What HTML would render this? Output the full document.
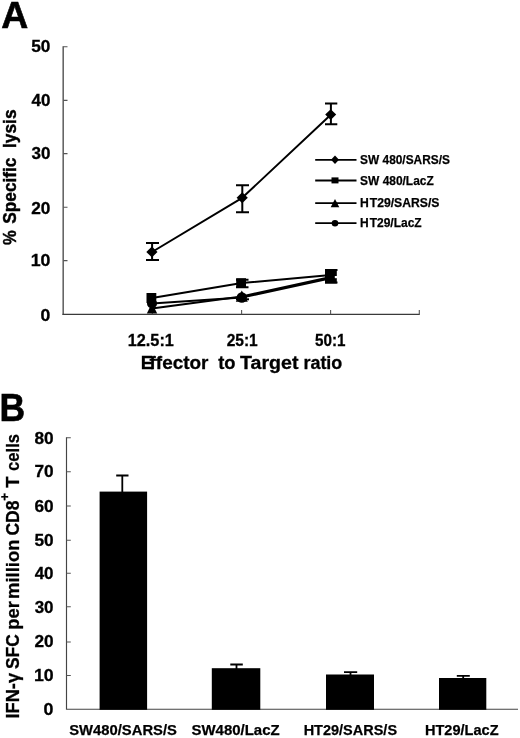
<!DOCTYPE html>
<html>
<head>
<meta charset="utf-8">
<title>Figure</title>
<style>
html,body{margin:0;padding:0;background:#fff;}
body{width:520px;height:738px;overflow:hidden;}
svg{display:block;}
text{font-family:"Liberation Sans",Arial,sans-serif;font-weight:bold;fill:#000;stroke:#000;}
</style>
</head>
<body>
<svg width="520" height="738" viewBox="0 0 520 738">
<rect width="520" height="738" fill="#fff"/>

<!-- text -->
<g id="A">
<text transform="translate(1.30,27.60)" font-size="37" textLength="27.01" lengthAdjust="spacingAndGlyphs" stroke-width="0.6" xml:space="preserve">A</text>
</g>
<g id="yticksA">
<text transform="translate(31.20,51.90)" font-size="16.8" textLength="19.20" lengthAdjust="spacingAndGlyphs" stroke-width="0.3" xml:space="preserve">50</text>
<text transform="translate(31.45,106.00)" font-size="16.8" textLength="18.93" lengthAdjust="spacingAndGlyphs" stroke-width="0.3" xml:space="preserve">40</text>
<text transform="translate(31.45,158.90)" font-size="16.8" textLength="18.94" lengthAdjust="spacingAndGlyphs" stroke-width="0.3" xml:space="preserve">30</text>
<text transform="translate(31.20,213.60)" font-size="16.8" textLength="19.20" lengthAdjust="spacingAndGlyphs" stroke-width="0.3" xml:space="preserve">20</text>
<text transform="translate(30.70,265.90)" font-size="16.8" textLength="19.78" lengthAdjust="spacingAndGlyphs" stroke-width="0.3" xml:space="preserve">10</text>
<text transform="translate(40.45,320.50)" font-size="16.8" textLength="9.83" lengthAdjust="spacingAndGlyphs" stroke-width="0.3" xml:space="preserve">0</text>
</g>
<g id="ylabelA">
<text transform="translate(15.60,244.88) rotate(-90)" font-size="18.6" textLength="14.67" lengthAdjust="spacingAndGlyphs" stroke-width="0.45" xml:space="preserve">%</text>
<text transform="translate(15.60,223.63) rotate(-90)" font-size="18.6" textLength="65.96" lengthAdjust="spacingAndGlyphs" stroke-width="0.45" xml:space="preserve">Specific</text>
<text transform="translate(15.70,148.00) rotate(-90)" font-size="18" textLength="38.56" lengthAdjust="spacingAndGlyphs" stroke-width="0.45" xml:space="preserve">lysis</text>
</g>
<g id="xticksA">
<text transform="translate(127.75,345.60)" font-size="17.3" textLength="46.13" lengthAdjust="spacingAndGlyphs" stroke-width="0.3" xml:space="preserve">12.5:1</text>
<text transform="translate(226.63,345.60)" font-size="17.3" textLength="31.12" lengthAdjust="spacingAndGlyphs" stroke-width="0.3" xml:space="preserve">25:1</text>
<text transform="translate(315.05,345.60)" font-size="17.3" textLength="30.46" lengthAdjust="spacingAndGlyphs" stroke-width="0.3" xml:space="preserve">50:1</text>
</g>
<g id="xlabelA">
<text transform="translate(140.70,368.60)" font-size="17.6" textLength="67.77" lengthAdjust="spacingAndGlyphs" stroke-width="0.3" xml:space="preserve"><tspan letter-spacing="-3.5">E</tspan>ffector</text>
<text transform="translate(218.25,368.60)" font-size="17.6" textLength="17.33" lengthAdjust="spacingAndGlyphs" stroke-width="0.3" xml:space="preserve">to</text>
<text transform="translate(240.10,368.60)" font-size="17.6" textLength="58.40" lengthAdjust="spacingAndGlyphs" stroke-width="0.3" xml:space="preserve">Target</text>
<text transform="translate(303.45,368.60)" font-size="17.6" textLength="38.87" lengthAdjust="spacingAndGlyphs" stroke-width="0.3" xml:space="preserve">ratio</text>
</g>
<g id="legend">
<text transform="translate(360.12,164.30)" font-size="12.8" textLength="89.76" lengthAdjust="spacingAndGlyphs" stroke-width="0.25" xml:space="preserve">SW 480/SARS/S</text>
<text transform="translate(360.10,184.50)" font-size="12.8" textLength="73.61" lengthAdjust="spacingAndGlyphs" stroke-width="0.25" xml:space="preserve">SW 480/LacZ</text>
<text transform="translate(360.12,206.60)" font-size="12.8" textLength="79.31" lengthAdjust="spacingAndGlyphs" stroke-width="0.25" xml:space="preserve">H<tspan dx="0.9">T29/SARS/S</tspan></text>
<text transform="translate(360.12,227.00)" font-size="12.8" textLength="61.56" lengthAdjust="spacingAndGlyphs" stroke-width="0.25" xml:space="preserve">H<tspan dx="0.9">T29/LacZ</tspan></text>
</g>
<g id="B">
<text transform="translate(-0.43,420.60)" font-size="39" textLength="25.65" lengthAdjust="spacingAndGlyphs" stroke-width="0.6" xml:space="preserve">B</text>
</g>
<g id="yticksB">
<text transform="translate(34.38,444.00)" font-size="17" textLength="19.20" lengthAdjust="spacingAndGlyphs" stroke-width="0.3" xml:space="preserve">80</text>
<text transform="translate(34.38,477.34)" font-size="17" textLength="19.22" lengthAdjust="spacingAndGlyphs" stroke-width="0.3" xml:space="preserve">70</text>
<text transform="translate(34.38,512.28)" font-size="17" textLength="19.20" lengthAdjust="spacingAndGlyphs" stroke-width="0.3" xml:space="preserve">60</text>
<text transform="translate(34.38,545.82)" font-size="17" textLength="19.20" lengthAdjust="spacingAndGlyphs" stroke-width="0.3" xml:space="preserve">50</text>
<text transform="translate(34.63,579.16)" font-size="17" textLength="18.93" lengthAdjust="spacingAndGlyphs" stroke-width="0.3" xml:space="preserve">40</text>
<text transform="translate(34.63,612.70)" font-size="17" textLength="18.93" lengthAdjust="spacingAndGlyphs" stroke-width="0.3" xml:space="preserve">30</text>
<text transform="translate(34.38,647.44)" font-size="17" textLength="19.20" lengthAdjust="spacingAndGlyphs" stroke-width="0.3" xml:space="preserve">20</text>
<text transform="translate(33.88,680.98)" font-size="17" textLength="19.78" lengthAdjust="spacingAndGlyphs" stroke-width="0.3" xml:space="preserve">10</text>
<text transform="translate(43.62,714.92)" font-size="17" textLength="9.94" lengthAdjust="spacingAndGlyphs" stroke-width="0.3" xml:space="preserve">0</text>
</g>
<g id="ylabelB">
<text transform="translate(18.50,718.50) rotate(-90)" font-size="18.3" textLength="45.52" lengthAdjust="spacingAndGlyphs" stroke-width="0.3" xml:space="preserve">IFN-γ</text>
<text transform="translate(18.50,669.05) rotate(-90)" font-size="18.3" textLength="34.77" lengthAdjust="spacingAndGlyphs" stroke-width="0.3" xml:space="preserve">SFC</text>
<text transform="translate(18.50,629.68) rotate(-90)" font-size="18.3" textLength="28.54" lengthAdjust="spacingAndGlyphs" stroke-width="0.3" xml:space="preserve">per</text>
<text transform="translate(18.50,598.88) rotate(-90)" font-size="18.3" textLength="59.37" lengthAdjust="spacingAndGlyphs" stroke-width="0.3" xml:space="preserve">million</text>
<text transform="translate(18.50,535.62) rotate(-90)" font-size="18.3" textLength="35.03" lengthAdjust="spacingAndGlyphs" stroke-width="0.3" xml:space="preserve">CD8</text><text transform="translate(8.50,500.85) rotate(-90)" font-size="13" textLength="7.85" lengthAdjust="spacingAndGlyphs" stroke-width="0.3" xml:space="preserve">+</text>
<text transform="translate(18.50,487.65) rotate(-90)" font-size="18.3" textLength="11.26" lengthAdjust="spacingAndGlyphs" stroke-width="0.3" xml:space="preserve">T</text>
<text transform="translate(18.50,470.90) rotate(-90)" font-size="18.3" textLength="36.88" lengthAdjust="spacingAndGlyphs" stroke-width="0.3" xml:space="preserve">cells</text>
</g>
<g id="catsB">
<text transform="translate(69.25,735.40)" font-size="15" textLength="107.71" lengthAdjust="spacingAndGlyphs" stroke-width="0.25" xml:space="preserve">SW480/SARS/S</text>
<text transform="translate(191.47,735.40)" font-size="15" textLength="88.16" lengthAdjust="spacingAndGlyphs" stroke-width="0.25" xml:space="preserve">SW480/LacZ</text>
<text transform="translate(303.65,735.40)" font-size="15" textLength="93.42" lengthAdjust="spacingAndGlyphs" stroke-width="0.25" xml:space="preserve">HT29/SARS/S</text>
<text transform="translate(424.95,735.40)" font-size="15" textLength="73.62" lengthAdjust="spacingAndGlyphs" stroke-width="0.25" xml:space="preserve">HT29/LacZ</text>
</g>
<!-- Panel A axes -->
<g stroke="#555" fill="none">
<path stroke="#666" stroke-width="1.6" d="M63.2 46.2 V314.9"/>
<path stroke="#3a3a3a" stroke-width="1.2" d="M62.5 314.4 H419.8"/>
<path stroke-width="1.1" d="M63.3 46.7 H67.5 M63.3 100.4 H67.5 M63.3 153.6 H67.5 M63.3 207.300 H67.5 M63.3 260.600 H67.5"/>
<path stroke-width="1.1" d="M152.3 314.3 V310 M241.6 314.3 V310 M330.600 314.3 V310 M419.3 314.3 V310"/>
</g>
<!-- series lines -->
<g stroke="#000" stroke-width="2" fill="none" stroke-linejoin="round">
<polyline points="152,252 242.2,197.8 330.8,114.8"/>
<polyline points="152,298 241.8,283 330.8,275"/>
<polyline points="152,308.5 241.8,296.5 330.8,277"/>
<polyline points="152,303.5 241.8,297.5 330.8,278.3"/>
</g>
<!-- error bars -->
<g stroke="#000" stroke-width="2" fill="none">
<path d="M152.1 243 V260 M146 243 H159 M146 260 H159"/>
<path d="M242.3 185.2 V212.3 M236 185.2 H249 M236 212.3 H249"/>
<path d="M330.9 103.5 V124.2 M325 103.5 H337.3 M325 124.2 H337.3"/>
<path d="M236 279.800 H248.5 M236 287.300 H248.5"/>
<path d="M236 299.300 H249"/>
<path d="M325 270 H337.5 M325 282.5 H337.5"/>
</g>
<!-- markers -->
<g fill="#000" stroke="none">
<path d="M151.9 246.4 L157.5 251.9 L151.9 257.4 L146.3 251.9Z"/>
<path d="M242.2 192.3 L247.8 197.8 L242.2 203.3 L236.6 197.8Z"/>
<path d="M330.7 109.2 L336.2 114.6 L330.7 120.0 L325.2 114.6Z"/>
<rect x="146.5" y="293" width="9.800" height="10"/>
<rect x="236.2" y="278.2" width="9.800" height="9.800"/>
<rect x="325" y="269" width="11.800" height="14.500"/>
<path d="M152 303 L157.2 313.5 L146.800 313.5Z"/>
<path d="M241.8 290.5 L247.8 301.800 L235.800 301.800Z"/>
<circle cx="152" cy="303.5" r="5"/>
<circle cx="241.8" cy="297.5" r="5.2"/>
<rect x="334.800" y="276" width="3" height="2.2" fill="#fff"/>
</g>
<!-- legend -->
<g stroke="#000" stroke-width="1.800" fill="none">
<path d="M315.2 159.800 H356.5 M315.2 180.500 H356.5 M315.2 203.200 H356.5 M315.2 223.200 H356.5"/>
</g>
<g fill="#000">
<path d="M335 155.600 L339 159.800 L335 164 L331 159.800Z"/>
<rect x="331.500" y="177.400" width="7" height="6"/>
<path d="M335 199 L339.300 207.300 L330.700 207.300Z"/>
<circle cx="335" cy="223.200" r="3.300"/>
</g>
<!-- Panel B axes -->
<g stroke="#555" fill="none">
<path stroke="#444" stroke-width="1.15" d="M66.5 437.2 V709.2 H518"/>
<path stroke-width="1.1" d="M66.5 437.7 H70.8 M66.5 471.7 H70.8 M66.5 506.0 H70.8 M66.5 540.3 H70.8 M66.5 573.3 H70.8 M66.5 606.8 H70.8 M66.5 642.0 H70.8 M66.5 675.5 H70.8"/>
</g>
<g fill="#000">
<rect x="99.600" y="491.600" width="47.5" height="218.2"/>
<rect x="211.800" y="668.200" width="48.5" height="41.600"/>
<rect x="326" y="674.500" width="48" height="35.300"/>
<rect x="439" y="678" width="47.300" height="31.800"/>
</g>
<g stroke="#000" stroke-width="1.800" fill="none">
<path d="M122.300 475.500 V492 M116.200 475.500 H128.500"/>
<path d="M236.500 664.500 V669 M230.300 664.500 H242.800"/>
<path d="M350.500 672.200 V676 M344 672.200 H357.200"/>
<path d="M463.200 675.900 V679 M456.800 675.900 H469.800"/>
</g>
</svg>
</body>
</html>
